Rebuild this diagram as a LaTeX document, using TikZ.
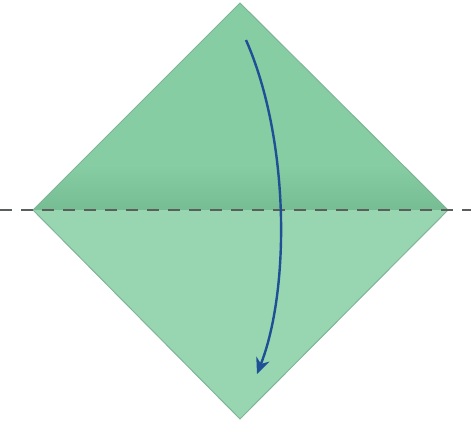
\documentclass[tikz,border=0pt]{standalone}
\usetikzlibrary{arrows.meta}
\definecolor{upper}{HTML}{86CDA3}
\definecolor{upperdark}{HTML}{76BD93}
\definecolor{lower}{HTML}{98D6B1}
\definecolor{edge}{HTML}{7FB596}
\definecolor{arrowblue}{HTML}{1F4F95}
\definecolor{dashgray}{HTML}{5A5F5C}
\tikzset{
  foldline/.style={draw=dashgray, line width=2.8pt, dash pattern=on 12pt off 9pt},
  foldarrow/.style={draw=arrowblue, line width=2.4pt, -{Stealth[length=16pt,width=14pt]}}
}
\begin{document}
\begin{tikzpicture}[x=1pt,y=-1pt]
\useasboundingbox (0,0) rectangle (471,426);
\coordinate (T) at (240,3);
\coordinate (L) at (33,210);
\coordinate (R) at (448,210);
\coordinate (B) at (240,419);
\begin{scope}
  \clip (T) -- (R) -- (B) -- (L) -- cycle;
  \fill[upper] (0,0) rectangle (471,210);
  \shade[top color=upper, bottom color=upperdark] (0,165) rectangle (471,210);
  \fill[lower] (0,210) rectangle (471,426);
\end{scope}
\draw[edge, line width=1pt, line join=miter] (T) -- (R) -- (B) -- (L) -- cycle;
\coordinate (D1) at (0,210);
\coordinate (D2) at (471,210);
\draw[foldline] (D1) -- (D2);
\coordinate (A1) at (246,40);
\coordinate (A2) at (257,374);
\draw[foldarrow] (A1) .. controls (290,140) and (290,290) .. (A2);
\end{tikzpicture}
\end{document}
